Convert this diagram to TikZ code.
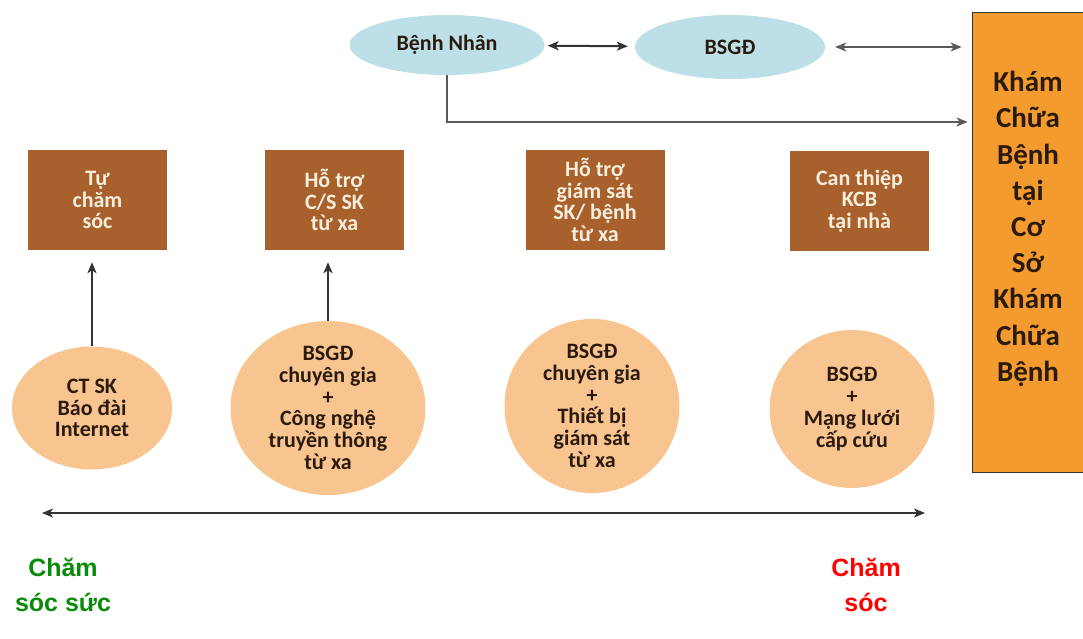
\documentclass[tikz,border=0pt]{standalone}
\usepackage{fontspec}
\setmainfont{Carlito}
\newfontfamily\arl{Liberation Sans}
\usetikzlibrary{shapes.geometric,arrows.meta}
\definecolor{brownbox}{HTML}{A8612D}
\definecolor{creamtxt}{HTML}{F8EEDC}
\definecolor{peach}{HTML}{F8C490}
\definecolor{skyell}{HTML}{BCDFE8}
\definecolor{kcborange}{HTML}{F39B2E}
\definecolor{darktxt}{HTML}{2B1A0E}
\definecolor{greentxt}{HTML}{0A8A0A}
\tikzset{
  topell/.style={ellipse, fill=skyell, inner sep=0pt, font=\bfseries\fontsize{22}{24}\selectfont, text=darktxt},
  brownbox/.style={rectangle, fill=brownbox, minimum width=139pt, minimum height=100pt, inner sep=0pt, align=center, text=creamtxt, font=\bfseries\fontsize{22}{21.5}\selectfont},
  peachell/.style={ellipse, fill=peach, inner sep=0pt, align=center, text=darktxt, font=\bfseries\fontsize{22}{21.7}\selectfont},
  link/.style={draw=black!80, line width=2pt},
  thin link/.style={draw=black!65, line width=1.3pt}
}
\begin{document}
\begin{tikzpicture}[x=1pt,y=-1pt, >={Stealth[length=11pt, width=9pt, inset=3pt]}]
  \useasboundingbox (0,0) rectangle (1083,639);
  \node[topell, minimum width=195pt, minimum height=60pt] (bn) at (447,45) {Bệnh Nhân};
  \node[topell, minimum width=190pt, minimum height=64pt] (bs) at (730,47) {BSGĐ};
  \node[rectangle, fill=kcborange, draw=black!80, line width=0.8pt, minimum width=125pt, minimum height=460pt, inner sep=0pt] (kcb) at (1034.5,242) {};
  \node[align=center, text=darktxt, font=\bfseries\fontsize{29}{36.2}\selectfont] at ([xshift=-6.5pt,yshift=13pt]kcb.center)
    {Khám\\Chữa\\Bệnh\\tại\\Cơ\\Sở\\Khám\\Chữa\\Bệnh};
  \draw[link, <->, shorten <=3pt, shorten >=7pt] (bn) -- (bs);
  \draw[thin link, <->, shorten <=10pt, shorten >=10pt] (bs.east) -- (kcb.west |- bs.east);
  \draw[thin link, ->, shorten >=4pt] (bn.south) |- (kcb.west |- 0,122);
  \node[brownbox] (b1) at (97.5,200) {Tự\\chăm\\sóc};
  \node[brownbox] (b2) at (334.5,200) {Hỗ trợ\\C/S SK\\từ xa};
  \node[brownbox] (b3) at (595,200) {Hỗ trợ\\giám sát\\SK/ bệnh\\từ xa};
  \node[brownbox] (b4) at (859.5,201) {Can thiệp\\KCB\\tại nhà};
  \node[peachell, minimum width=160pt, minimum height=123pt] (c1) at (92,408) {CT SK\\Báo đài\\Internet};
  \node[peachell, minimum width=195pt, minimum height=147pt] (c2) at (328,408) {BSGĐ\\chuyên gia\\+\\Công nghệ\\truyền thông\\từ xa};
  \node[peachell, minimum width=175pt, minimum height=157pt] (c3) at (592,406) {BSGĐ\\chuyên gia\\+\\Thiết bị\\giám sát\\từ xa};
  \node[peachell, minimum width=165pt, minimum height=158pt] (c4) at (852,409) {BSGĐ\\+\\Mạng lưới\\cấp cứu};
  \draw[link, line width=2.4pt, ->, shorten >=12pt] (c1.north) -- (c1.north |- b1.south);
  \draw[link, line width=2.2pt, ->, shorten >=12pt] (c2.north) -- (c2.north |- b2.south);
  \coordinate (wl) at (42,513);
  \coordinate (sk) at (925,513);
  \draw[link, line width=1.8pt, <->] (wl) -- (sk);
  \node[align=center, text=greentxt, font=\arl\bfseries\fontsize{25}{35}\selectfont] (cg) at (63,585) {Chăm\\sóc sức};
  \node[align=center, text=red, font=\arl\bfseries\fontsize{25}{35}\selectfont] (cr) at (866,585) {Chăm\\sóc};
\end{tikzpicture}
\end{document}
